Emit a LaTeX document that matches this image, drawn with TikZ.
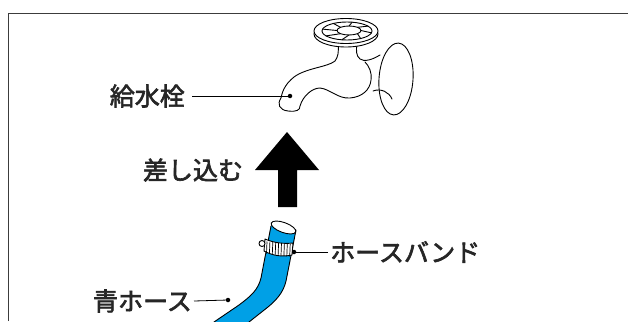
\documentclass[tikz,border=0pt]{standalone}
\usepackage{fontspec}
\newfontfamily\jp[FakeBold=2.5]{Noto Sans CJK JP}
\definecolor{hoseblue}{RGB}{0,160,230}
\definecolor{frame}{RGB}{60,60,60}
\tikzset{
  lbl/.style={font=\jp\fontsize{25}{25}\selectfont, text=black!85, inner sep=2pt},
  lead/.style={line width=0.8pt},
  dot/.style={circle, fill=black, inner sep=0pt, minimum size=4.5pt},
  outline/.style={line width=0.9pt, line join=round, line cap=round}
}
\begin{document}
\begin{tikzpicture}[x=1pt,y=-1pt]
\useasboundingbox (0,0) rectangle (628,321);
% frame
\draw[frame, line width=1pt] (8,321) -- (8,14) -- (628,14);

% faucet: flange
\draw[outline, fill=white, rotate around={-4:(396,79)}] (396,79) ellipse [x radius=17, y radius=36];
% faucet: body and spout
\fill[white] (338,44) .. controls (339,52) and (338,57) .. (335,61)
  .. controls (328,67) and (306,68) .. (294,77)
  .. controls (284,85) and (282,93) .. (281,98)
  .. controls (277,104) and (279,110) .. (288,111)
  .. controls (297,112) and (300,110) .. (300,106)
  .. controls (303,96) and (312,88) .. (320,88)
  .. controls (330,89) and (338,99) .. (350,98)
  .. controls (362,97) and (370,90) .. (371,80)
  .. controls (372,72) and (374,64) .. (380,58)
  -- (380,52) .. controls (372,58) and (362,60) .. (358,56)
  .. controls (356,52) and (356,48) .. (357,44) -- cycle;
\draw[outline] (338,44) .. controls (339,52) and (338,57) .. (335,61)
  .. controls (328,67) and (306,68) .. (294,77)
  .. controls (284,85) and (282,93) .. (281,98)
  .. controls (277,104) and (279,110) .. (288,111)
  .. controls (297,112) and (300,110) .. (300,106)
  .. controls (303,96) and (312,88) .. (320,88)
  .. controls (330,89) and (338,99) .. (350,98)
  .. controls (362,97) and (370,90) .. (371,80)
  .. controls (372,72) and (369,66) .. (365,62);
\draw[outline] (357,44) .. controls (356,50) and (356,56) .. (360,59)
  .. controls (364,62) and (372,60) .. (380,55);
\draw[outline] (373,91) .. controls (381,88) and (389,92) .. (392,99);
% faucet: handle wheel
\draw[outline, fill=white] (346,34) ellipse [x radius=32, y radius=13];
\draw[outline, fill=white] (346,31) ellipse [x radius=32, y radius=12.5];
\draw[outline] (347,31) ellipse [x radius=25, y radius=9];
\draw[outline] (349,30.5) ellipse [x radius=12, y radius=4.5];
\foreach \a in {0,45,...,315}
  \draw[outline] ([shift={(349,30.5)}]\a:12 and 4.5) -- ([shift={(347,31)}]\a+12:25 and 9);
\coordinate (tapdot) at (290,96);
\node[dot] at (tapdot) {};

% push arrow
\fill[black] (287,132) -- (319,170) -- (297,170) -- (297,207)
  -- (278,207) -- (278,170) -- (255,170) -- cycle;

% hose
\fill[hoseblue] (271,226) -- (261,278) .. controls (258,290) and (251,296) .. (239,305)
  -- (214,322) -- (249,322) -- (268,307) .. controls (280,297) and (285,289) .. (287,276)
  -- (296,230) -- cycle;
\draw[outline] (271,226) -- (261,278) .. controls (258,290) and (251,296) .. (239,305) -- (214,322);
\draw[outline] (249,322) -- (268,307) .. controls (280,297) and (285,289) .. (287,276) -- (296,230);
\draw[outline, fill=white, rotate around={-20:(283.5,227.5)}] (283.5,227.5) ellipse [x radius=13, y radius=5];
% hose band
\draw[outline, fill=white] (265,239) .. controls (274,243) and (284,244) .. (293,243)
  -- (292,255) .. controls (283,257) and (273,256) .. (264,251) -- cycle;
\foreach \i in {0,...,8}
  \draw[line width=0.7pt] (267+2.9*\i,241.5+0.3*\i) -- (266.5+2.9*\i,253.5+0.4*\i);
\draw[outline, fill=white] (262,243.5) circle (3);
\coordinate (banddot) at (294,252);
\node[dot] at (banddot) {};
\coordinate (hosedot) at (228,300);
\node[dot] at (hosedot) {};

% labels
\node[lbl, anchor=east] (tap) at (187,96) {給水栓};
\node[lbl] (push) at (193,170) {差し込む};
\node[lbl, anchor=west] (band) at (328,252) {ホースバンド};
\node[lbl, anchor=east] (hose) at (194,301) {青ホース};
\draw[lead] (tap.east) ++(5,0) -- (tapdot);
\draw[lead] (band.west) -- (banddot);
\draw[lead] (hose.east) -- (hosedot);
\end{tikzpicture}
\end{document}
